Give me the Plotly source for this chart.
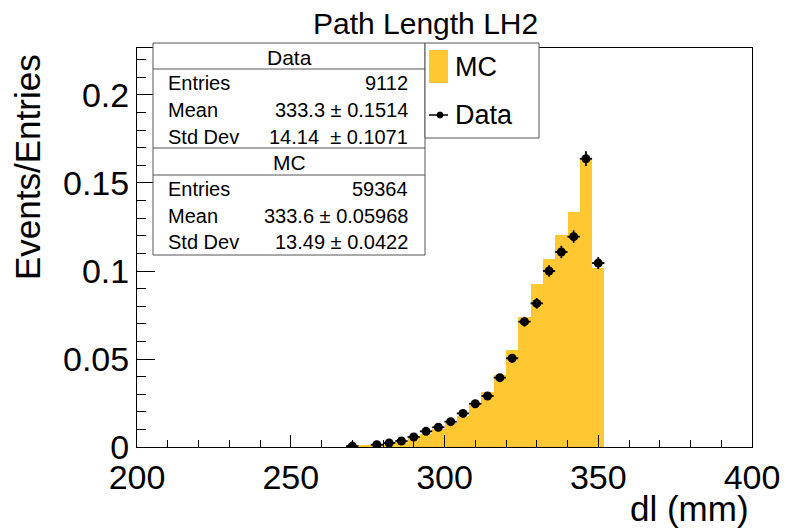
import plotly.graph_objects as go

# ---- data ----
mc_centers = [270, 274, 278, 282, 286, 290, 294, 298, 302, 306, 310, 314, 318, 322, 326, 330, 334, 338, 342, 346, 350]
mc_values = [0.0002, 0.0007, 0.0010, 0.0020, 0.0030, 0.0050, 0.0075, 0.0100, 0.0135, 0.0177, 0.0248, 0.0312,
             0.0410, 0.0551, 0.0737, 0.0926, 0.1068, 0.1205, 0.1337, 0.1636, 0.1015]

data_centers = [270, 278, 282, 286, 290, 294, 298, 302, 306, 310, 314, 318, 322, 326, 330, 334, 338, 342, 346, 350]
data_values = [0.0005, 0.0013, 0.0023, 0.0034, 0.0057, 0.0089, 0.0112, 0.0144, 0.0191, 0.0246, 0.0290, 0.0394,
               0.0504, 0.0712, 0.0816, 0.1000, 0.1108, 0.1195, 0.1638, 0.1045]
data_errors = [0.0002, 0.0004, 0.0005, 0.0006, 0.0008, 0.0010, 0.0011, 0.0013, 0.0015, 0.0016, 0.0018, 0.0021,
               0.0024, 0.0028, 0.0030, 0.0033, 0.0035, 0.0036, 0.0042, 0.0034]
bin_width = 4

x_ticks = [200, 250, 300, 350, 400]
y_ticks = [0, 0.05, 0.1, 0.15, 0.2]
y_tick_labels = ["0", "0.05", "0.1", "0.15", "0.2"]

stats_data = [("Entries", "9112"), ("Mean", "333.3 ± 0.1514"), ("Std Dev", "14.14  ± 0.1071")]
stats_mc = [("Entries", "59364"), ("Mean", "333.6 ± 0.05968"), ("Std Dev", "13.49 ± 0.0422")]

MC_COLOR = "#FFC832"
FONT = "Liberation Sans, Arial, Helvetica, sans-serif"

W, H = 787, 528
L, R, T, B = 137, 35, 48, 81
PW, PH = W - L - R, H - T - B


def px(xp):
    return (xp - L) / PW


def py(yp):
    return (H - B - yp) / PH


fig = go.Figure()
fig.add_trace(go.Bar(x=mc_centers, y=mc_values, width=[bin_width] * len(mc_centers),
                     marker=dict(color=MC_COLOR, line=dict(width=0)), name="MC", showlegend=False))
fig.add_trace(go.Scatter(x=data_centers, y=data_values, mode="markers", name="Data", showlegend=False,
                         marker=dict(color="black", size=9),
                         error_x=dict(type="constant", value=bin_width / 2, width=0, thickness=1.8, color="black"),
                         error_y=dict(type="data", array=data_errors, width=0, thickness=1.8, color="black")))

fig.update_layout(
    width=W, height=H, margin=dict(l=L, r=R, t=T, b=B, autoexpand=False),
    paper_bgcolor="white", plot_bgcolor="white",
    font=dict(family=FONT, color="black"),
    bargap=0, showlegend=False,
    xaxis=dict(range=[200, 400], tickvals=x_ticks, ticktext=[str(v) for v in x_ticks], automargin=False,
               ticks="inside", ticklen=12, tickcolor="black", tickwidth=1,
               minor=dict(dtick=10, ticks="inside", ticklen=7, tickcolor="black"),
               showline=True, linecolor="black", linewidth=1, mirror=True,
               showgrid=False, zeroline=False, tickfont=dict(size=34, family=FONT)),
    yaxis=dict(range=[0, 0.2267], tickvals=y_ticks, ticktext=y_tick_labels, automargin=False,
               ticks="inside", ticklen=18, tickcolor="black", tickwidth=1,
               minor=dict(dtick=0.01, ticks="inside", ticklen=9, tickcolor="black"),
               showline=True, linecolor="black", linewidth=1, mirror=True,
               showgrid=False, zeroline=False, tickfont=dict(size=34, family=FONT)),
)

ann = []
shapes = []
# Title
ann.append(dict(text="Path Length LH2", xref="paper", yref="paper", x=px(425), y=py(23),
                xanchor="center", yanchor="middle", showarrow=False, font=dict(size=30)))
# Axis titles
ann.append(dict(text="dl (mm)", xref="paper", yref="paper", x=px(751), y=py(508),
                xanchor="right", yanchor="middle", showarrow=False, font=dict(size=35)))
ann.append(dict(text="Events/Entries", xref="paper", yref="paper", x=px(27), y=py(52),
                xanchor="center", yanchor="top", textangle=-90, showarrow=False, font=dict(size=35)))

# Stats box
BOX = "#555555"
shapes.append(dict(type="rect", xref="paper", yref="paper", x0=px(153), x1=px(425), y0=py(255), y1=py(43),
                   line=dict(color=BOX, width=1), fillcolor="white", layer="above"))
for yl in (69, 148, 175):
    shapes.append(dict(type="line", xref="paper", yref="paper", x0=px(153), x1=px(425), y0=py(yl), y1=py(yl),
                       line=dict(color=BOX, width=1), layer="above"))
ann.append(dict(text="Data", xref="paper", yref="paper", x=px(289), y=py(57), xanchor="center", yanchor="middle",
                showarrow=False, font=dict(size=21)))
ann.append(dict(text="MC", xref="paper", yref="paper", x=px(289), y=py(162), xanchor="center", yanchor="middle",
                showarrow=False, font=dict(size=21)))
for rows, ys in ((stats_data, (83, 110, 137)), (stats_mc, (189, 216, 242))):
    for (lab, val), yy in zip(rows, ys):
        ann.append(dict(text=lab, xref="paper", yref="paper", x=px(166), y=py(yy), xanchor="left",
                        yanchor="middle", showarrow=False, font=dict(size=20)))
        ann.append(dict(text=val, xref="paper", yref="paper", x=px(410), y=py(yy), xanchor="right",
                        yanchor="middle", showarrow=False, font=dict(size=20)))

# Legend box
shapes.append(dict(type="rect", xref="paper", yref="paper", x0=px(425), x1=px(539), y0=py(138), y1=py(43),
                   line=dict(color=BOX, width=1), fillcolor="white", layer="above"))
shapes.append(dict(type="rect", xref="paper", yref="paper", x0=px(429), x1=px(448), y0=py(83), y1=py(50),
                   line=dict(width=0), fillcolor=MC_COLOR, layer="above"))
shapes.append(dict(type="line", xref="paper", yref="paper", x0=px(429), x1=px(448), y0=py(115), y1=py(115),
                   line=dict(color="black", width=1.5), layer="above"))
shapes.append(dict(type="circle", xref="paper", yref="paper", x0=px(437), x1=px(443), y0=py(118), y1=py(112),
                   line=dict(color="black", width=1), fillcolor="black", layer="above"))
ann.append(dict(text="MC", xref="paper", yref="paper", x=px(453), y=py(67), xanchor="left", yanchor="middle",
                showarrow=False, font=dict(size=27)))
ann.append(dict(text="Data", xref="paper", yref="paper", x=px(453), y=py(115), xanchor="left", yanchor="middle",
                showarrow=False, font=dict(size=27)))

fig.update_layout(annotations=ann, shapes=shapes)
fig.write_html("out.html")
